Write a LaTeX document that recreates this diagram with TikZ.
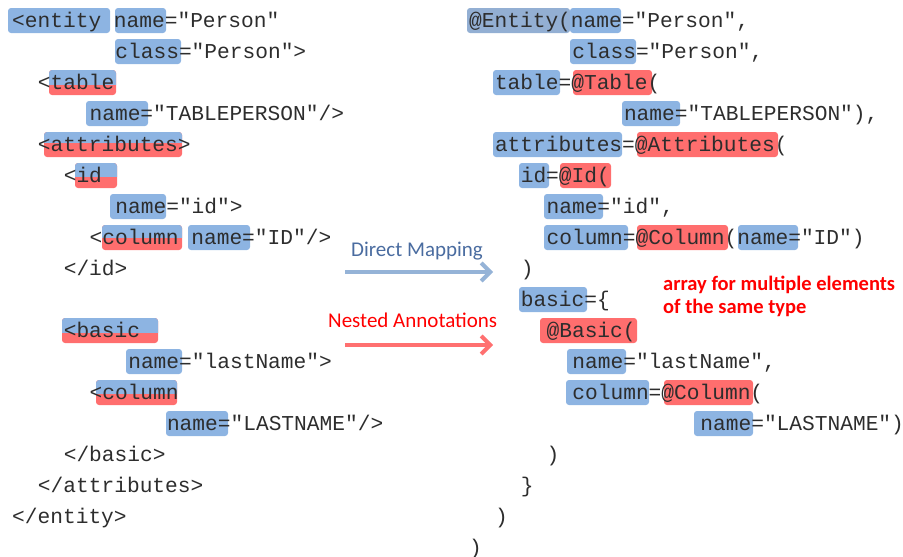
\documentclass[tikz,border=0pt]{standalone}
\usepackage{fontspec}
\setmainfont{Carlito}
\newfontfamily\codefont{Liberation Mono}
\usetikzlibrary{arrows.meta}
\definecolor{hlblue}{RGB}{141,180,226}
\definecolor{hlgray}{RGB}{147,175,211}
\definecolor{hlred}{RGB}{255,110,110}
\definecolor{codegray}{RGB}{45,45,45}
\definecolor{dmblue}{RGB}{74,108,160}
\definecolor{arrblue}{RGB}{149,179,215}
\definecolor{arrred}{RGB}{255,112,112}
\newcommand{\HLbox}[4]{\fill[#1, rounded corners=3pt] ({#2},{8+(#3-1)*31}) rectangle ({#4},{33+(#3-1)*31});}
\newcommand{\HLsplit}[4]{%
  \fill[hlred, rounded corners=3pt] ({#1},{8+(#2-1)*31}) rectangle ({#3},{33+(#2-1)*31});
  \begin{scope}
    \clip ({#1-2},{6+(#2-1)*31}) rectangle ({#3+2},{8+#4+(#2-1)*31});
    \fill[hlblue, rounded corners=3pt] ({#1},{8+(#2-1)*31}) rectangle ({#3},{33+(#2-1)*31});
  \end{scope}}
\begin{document}
\begin{tikzpicture}[x=1pt,y=-1pt,
  code/.style={anchor=base west, inner sep=0pt, font=\codefont\fontsize{21.2}{21.2}\selectfont, text=codegray},
  lbl/.style={anchor=base west, inner sep=0pt, font=\fontsize{21}{21}\selectfont},
  arrlbl/.style={anchor=base west, inner sep=0pt, font=\bfseries\fontsize{20.5}{20.5}\selectfont, text=red},
  maparrow/.style={line width=4pt, -{Straight Barb[length=9pt,width=18pt,line width=4pt]}}]
\useasboundingbox (0,0) rectangle (903,557);
% ---------- highlights, left ----------
\HLbox{hlblue}{8}{1}{110}
\HLbox{hlblue}{115}{1}{166}
\HLbox{hlblue}{115}{2}{181}
\HLsplit{49}{3}{116}{14}
\HLbox{hlblue}{86}{4}{148}
\HLsplit{44}{5}{182}{10}
\HLsplit{75}{6}{117}{13}
\HLbox{hlblue}{110}{7}{166}
\HLsplit{102}{8}{182}{12}
\HLbox{hlblue}{188}{8}{250}
\HLsplit{62}{11}{158}{14}
\HLbox{hlblue}{126}{12}{182}
\HLsplit{96}{13}{177}{13}
\HLbox{hlblue}{166}{14}{228}
% ---------- highlights, right ----------
\HLbox{hlgray}{467}{1}{570}
\HLbox{hlblue}{570}{1}{621}
\HLbox{hlblue}{570}{2}{636}
\HLbox{hlblue}{493}{3}{560}
\HLbox{hlred}{573}{3}{652}
\HLbox{hlblue}{622}{4}{680}
\HLbox{hlblue}{493}{5}{622}
\HLbox{hlred}{637}{5}{778}
\HLbox{hlblue}{519}{6}{549}
\HLbox{hlred}{560}{6}{611}
\HLbox{hlblue}{544}{7}{603}
\HLbox{hlblue}{544}{8}{628}
\HLbox{hlred}{637}{8}{728}
\HLbox{hlblue}{738}{8}{798}
\HLbox{hlblue}{519}{10}{587}
\HLbox{hlred}{540}{11}{637}
\HLbox{hlblue}{567}{12}{626}
\HLbox{hlblue}{566}{13}{649}
\HLbox{hlred}{664}{13}{753}
\HLbox{hlblue}{694}{14}{753}
% ---------- left code ----------
\node[code] (l1)  at ({12+0*12.9},{27+0*31})  {<entity name="Person"};
\node[code] (l2)  at ({12+8*12.9},{27+1*31})  {class="Person">};
\node[code] (l3)  at ({12+2*12.9},{27+2*31})  {<table};
\node[code] (l4)  at ({12+6*12.9},{27+3*31})  {name="TABLEPERSON"/>};
\node[code] (l5)  at ({12+2*12.9},{27+4*31})  {<attributes>};
\node[code] (l6)  at ({12+4*12.9},{27+5*31})  {<id};
\node[code] (l7)  at ({12+8*12.9},{27+6*31})  {name="id">};
\node[code] (l8)  at ({12+6*12.9},{27+7*31})  {<column name="ID"/>};
\node[code] (l9)  at ({12+4*12.9},{27+8*31})  {</id>};
\node[code] (l11) at ({12+4*12.9},{27+10*31}) {<basic};
\node[code] (l12) at ({12+9*12.9},{27+11*31}) {name="lastName">};
\node[code] (l13) at ({12+6*12.9},{27+12*31}) {<column};
\node[code] (l14) at ({12+12*12.9},{27+13*31}) {name="LASTNAME"/>};
\node[code] (l15) at ({12+4*12.9},{27+14*31}) {</basic>};
\node[code] (l16) at ({12+2*12.9},{27+15*31}) {</attributes>};
\node[code] (l17) at ({12+0*12.9},{27+16*31}) {</entity>};
% ---------- right code ----------
\node[code] (r1)  at ({469+0*12.9},{27+0*31})  {@Entity(name="Person",};
\node[code] (r2)  at ({469+8*12.9},{27+1*31})  {class="Person",};
\node[code] (r3)  at ({469+2*12.9},{27+2*31})  {table=@Table(};
\node[code] (r4)  at ({469+12*12.9},{27+3*31}) {name="TABLEPERSON"),};
\node[code] (r5)  at ({469+2*12.9},{27+4*31})  {attributes=@Attributes(};
\node[code] (r6)  at ({469+4*12.9},{27+5*31})  {id=@Id(};
\node[code] (r7)  at ({469+6*12.9},{27+6*31})  {name="id",};
\node[code] (r8)  at ({469+6*12.9},{27+7*31})  {column=@Column(name="ID")};
\node[code] (r9)  at ({469+4*12.9},{27+8*31})  {)};
\node[code] (r10) at ({469+4*12.9},{27+9*31})  {basic=\{};
\node[code] (r11) at ({469+6*12.9},{27+10*31}) {@Basic(};
\node[code] (r12) at ({469+8*12.9},{27+11*31}) {name="lastName",};
\node[code] (r13) at ({469+8*12.9},{27+12*31}) {column=@Column(};
\node[code] (r14) at ({468+18*12.9},{27+13*31}) {name="LASTNAME")};
\node[code] (r15) at ({469+6*12.9},{27+14*31}) {)};
\node[code] (r16) at ({469+4*12.9},{27+15*31}) {\}};
\node[code] (r17) at ({469+2*12.9},{27+16*31}) {)};
\node[code] (r18) at ({469+0*12.9},{27+17*31}) {)};
% ---------- labels and arrows ----------
\node[lbl, text=dmblue] (dm) at (351,256) {Direct Mapping};
\node[lbl, text=red] (na) at (328,327) {Nested Annotations};
\coordinate (dmA) at (345,272);
\coordinate (dmB) at (493,272);
\coordinate (naA) at (345,345);
\coordinate (naB) at (493,345);
\draw[maparrow, arrblue] (dmA) -- (dmB);
\draw[maparrow, arrred] (naA) -- (naB);
\node[arrlbl] (arr1) at (663,290) {array for multiple elements};
\node[arrlbl] (arr2) at (663,313) {of the same type};
\end{tikzpicture}
\end{document}
